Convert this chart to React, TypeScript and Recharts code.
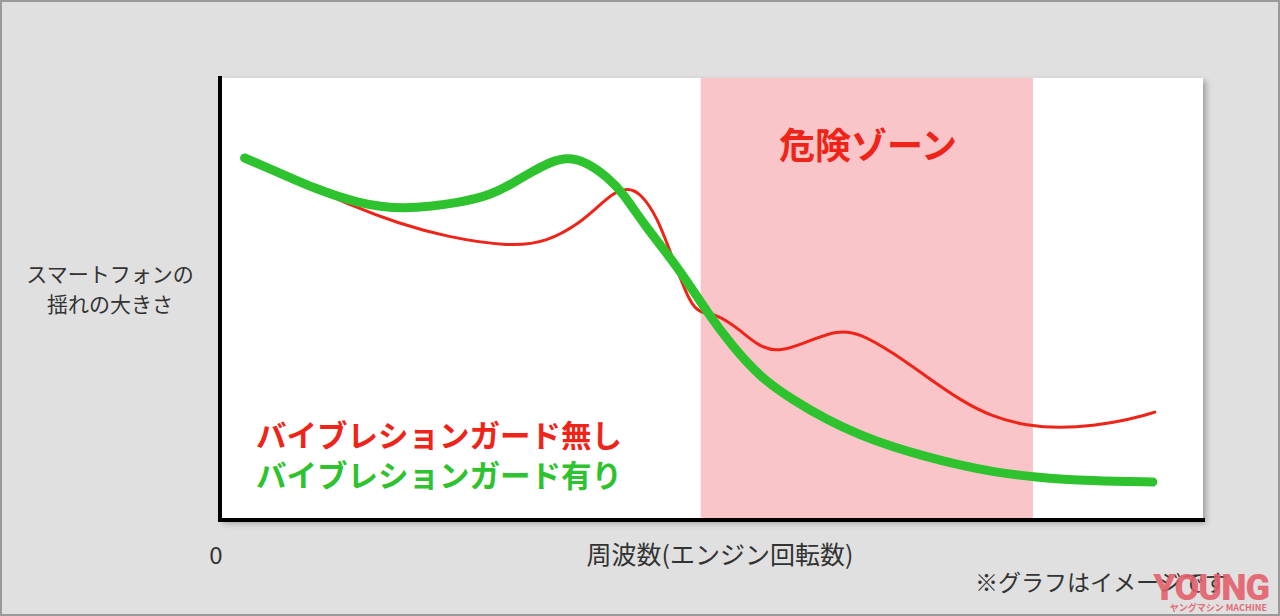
import { LineChart, Line, XAxis, YAxis, ReferenceArea, ReferenceLine } from 'recharts';

// frequency (0-100) and vibration amplitude (0-100)
const withoutGuardX = [2.5, 6.1, 9.5, 13.5, 18.0, 23.1, 29.5, 33.3, 36.6, 38.4, 40.0, 41.4, 42.7, 44.5, 46.1, 47.8, 48.8, 50.6, 52.9, 54.9, 57.0, 59.7, 62.8, 65.1, 68.5, 71.9, 75.3, 78.6, 82.1, 85.5, 88.8, 92.3, 95.1];
const withoutGuardY = [81.9, 78.5, 75.1, 71.0, 67.2, 64.0, 61.8, 62.9, 67.2, 70.8, 74.0, 75.1, 74.2, 68.6, 58.8, 49.1, 46.8, 46.6, 43.0, 39.1, 38.0, 40.3, 43.0, 42.3, 37.8, 32.4, 27.1, 23.3, 21.3, 20.8, 21.3, 22.6, 24.4];

const withGuardX = [2.5, 6.1, 9.5, 13.9, 18.6, 24.7, 27.5, 29.8, 31.5, 33.6, 35.3, 37.3, 39.4, 41.0, 43.0, 46.8, 49.5, 52.2, 54.9, 58.3, 61.8, 65.1, 68.5, 71.9, 75.3, 78.6, 82.7, 88.8, 94.9];
const withGuardY = [81.9, 78.5, 75.1, 71.7, 70.1, 71.9, 73.5, 76.2, 78.5, 81.0, 82.1, 81.0, 77.6, 74.0, 67.2, 56.6, 47.1, 39.1, 32.4, 27.1, 22.6, 19.2, 16.5, 14.3, 12.4, 10.9, 9.7, 8.8, 8.6];

const dangerZone = [48.9, 82.7];

const legendLabels = ['バイブレションガード無し', 'バイブレションガード有り'];
const dangerLabel = '危険ゾーン';
const yLabel = ['スマートフォンの', '揺れの大きさ'];
const xLabel = '周波数(エンジン回転数)';
const note = '※グラフはイメージです';

const RED = '#ef2419';
const GREEN = '#2ec22e';
const FONT = '"Noto Sans CJK JP", "Noto Sans", sans-serif';

const redData = withoutGuardX.map((x, i) => ({ x, y: withoutGuardY[i] }));
const greenData = withGuardX.map((x, i) => ({ x, y: withGuardY[i] }));

export default function App() {
  return (
    <div style={{ position: 'relative', width: 1280, height: 616, background: '#e0e0e0', fontFamily: FONT, overflow: 'hidden' }}>
      <style>{'body{margin:0}'}</style>
      {/* white plot panel with its drop shadow */}
      <div style={{ position: 'absolute', left: 220, top: 78, width: 983, height: 442, background: '#fff', boxShadow: '3px 3px 6px rgba(0,0,0,0.3)' }} />
      <div style={{ position: 'absolute', left: 0, top: 0 }}>
        <LineChart width={1280} height={616} margin={{ top: 78, right: 77, bottom: 96, left: 220 }}>
          <XAxis type="number" dataKey="x" domain={[0, 100]} hide allowDataOverflow />
          <YAxis type="number" dataKey="y" domain={[0, 100]} hide allowDataOverflow />
          <ReferenceArea x1={0} x2={100} y1={0} y2={100} fill="#ffffff" fillOpacity={1} stroke="none" />
          <ReferenceArea x1={dangerZone[0]} x2={dangerZone[1]} y1={0} y2={100} fill="#f9c5c8" fillOpacity={1} stroke="none" />
          <ReferenceLine x={0} stroke="#000" strokeWidth={4} strokeLinecap="square" />
          <ReferenceLine y={0} stroke="#000" strokeWidth={4} strokeLinecap="square" />
          <Line data={redData} dataKey="y" type="basis" stroke={RED} strokeWidth={3} dot={false} isAnimationActive={false} strokeLinecap="round" />
          <Line data={greenData} dataKey="y" type="basis" stroke={GREEN} strokeWidth={9} dot={false} isAnimationActive={false} strokeLinecap="round" />
        </LineChart>
      </div>

      <div style={{ position: 'absolute', left: 700, width: 336, top: 119, textAlign: 'center', color: RED, fontWeight: 700, fontSize: 36, lineHeight: '48px' }}>
        {dangerLabel}
      </div>

      <div style={{ position: 'absolute', left: 256, top: 414, fontWeight: 700, fontSize: 30.5, lineHeight: '40px', whiteSpace: 'nowrap' }}>
        <div style={{ color: RED }}>{legendLabels[0]}</div>
        <div style={{ color: GREEN }}>{legendLabels[1]}</div>
      </div>

      <div style={{ position: 'absolute', left: 10, width: 200, top: 258, textAlign: 'center', color: '#333', fontSize: 21, lineHeight: '30px' }}>
        <div>{yLabel[0]}</div>
        <div>{yLabel[1]}</div>
      </div>

      <div style={{ position: 'absolute', left: 200, width: 32, top: 538, textAlign: 'center', color: '#333', fontSize: 24, lineHeight: '32px' }}>0</div>
      <div style={{ position: 'absolute', left: 510, width: 420, top: 537, textAlign: 'center', color: '#333', fontSize: 25, lineHeight: '32px' }}>{xLabel}</div>
      <div style={{ position: 'absolute', left: 975, top: 565, color: '#333', fontSize: 23, lineHeight: '32px', whiteSpace: 'nowrap' }}>{note}</div>

      {/* watermark */}
      <div style={{ position: 'absolute', left: 1141, top: 570, width: 128, textAlign: 'right', color: '#e4606b', opacity: 0.9, fontFamily: 'Roboto, sans-serif', fontWeight: 900, fontSize: 36, lineHeight: '36px', letterSpacing: -1 }}>YOUNG</div>
      <div style={{ position: 'absolute', left: 1141, top: 603, width: 126, textAlign: 'right', color: '#e4606b', opacity: 0.9, fontFamily: FONT, fontWeight: 700, fontSize: 9, lineHeight: '10px', whiteSpace: 'nowrap' }}>ヤングマシン MACHINE</div>

      <div style={{ position: 'absolute', inset: 0, border: '2px solid #9a9a9a', pointerEvents: 'none' }} />
    </div>
  );
}
